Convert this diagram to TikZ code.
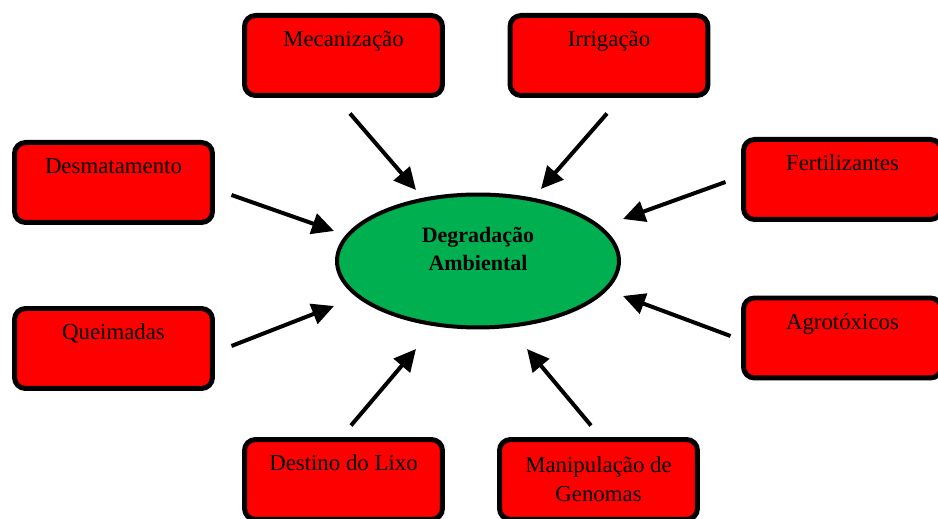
\documentclass[tikz,border=0pt]{standalone}
\usepackage{fontspec}
\setmainfont{Liberation Serif}
\usetikzlibrary{arrows.meta,shapes.geometric}
\definecolor{boxred}{RGB}{255,0,0}
\definecolor{ovalgreen}{RGB}{0,176,80}
\begin{document}
\begin{tikzpicture}[x=0.02cm,y=-0.02cm]
        \tikzstyle{factor}=[rectangle,rounded corners=0.22cm,line width=0.1cm,draw=black,fill=boxred,
          minimum width=3.96cm,inner sep=0pt,text height=0.63cm,text depth=0.97cm,align=center,
          font=\fontsize{13}{17}\selectfont]
        \tikzstyle{effect}=[ellipse,line width=0.08cm,draw=black,fill=ovalgreen,minimum width=5.64cm,
          minimum height=2.66cm,text height=0.88cm,text depth=0.48cm,align=center,
          font=\fontsize{12.5}{16.5}\selectfont\bfseries]
        \tikzstyle{edge}=[line width=0.08cm,-{Triangle[length=0.44cm,width=0.42cm]}]
       \clip (0,0) rectangle (938,519);
       \begin{scope}
         \node [effect] (deg) at (478,261) {Degradação\\Ambiental};
         \node [factor] (mec) at (343.5,55.5) {Mecanização};
         \node [factor] (irr) at (609,55.5) {Irrigação};
         \node [factor] (desm) at (113.5,182.5) {Desmatamento};
         \node [factor] (fert) at (842.5,179.5) {Fertilizantes};
         \node [factor] (queim) at (113.5,348.5) {Queimadas};
         \node [factor] (agro) at (842.5,338) {Agrotóxicos};
         \node [factor] (lixo) at (343.5,479.5) {Destino do Lixo};
         \node [factor,text height=1.25cm,text depth=0.35cm] (genom) at (598.5,479.5) {Manipulação de\\Genomas};
         \draw[edge] ([shift={(6.5,15.5)}]mec.south) -- ([shift={(-62,-2.5)}]deg.north);
         \draw[edge] ([shift={(-2,15.5)}]irr.south) -- ([shift={(63,-3.5)}]deg.north);
         \draw[edge] ([shift={(16.5,12.5)}]desm.east) -- ([shift={(-1,-30)}]deg.west);
         \draw[edge] ([shift={(-15.5,2.5)}]fert.west) -- ([shift={(2,-42)}]deg.east);
         \draw[edge] ([shift={(16.5,-2.5)}]queim.east) -- ([shift={(-1,45)}]deg.west);
         \draw[edge] ([shift={(-10.5,-2)}]agro.west) -- ([shift={(2,35)}]deg.east);
         \draw[edge] ([shift={(7.5,-11.5)}]lixo.north) -- ([shift={(-62,19.5)}]deg.south);
         \draw[edge] ([shift={(-7.5,-11.5)}]genom.north) -- ([shift={(49,19.5)}]deg.south);
        \end{scope}
      \end{tikzpicture}
\end{document}
